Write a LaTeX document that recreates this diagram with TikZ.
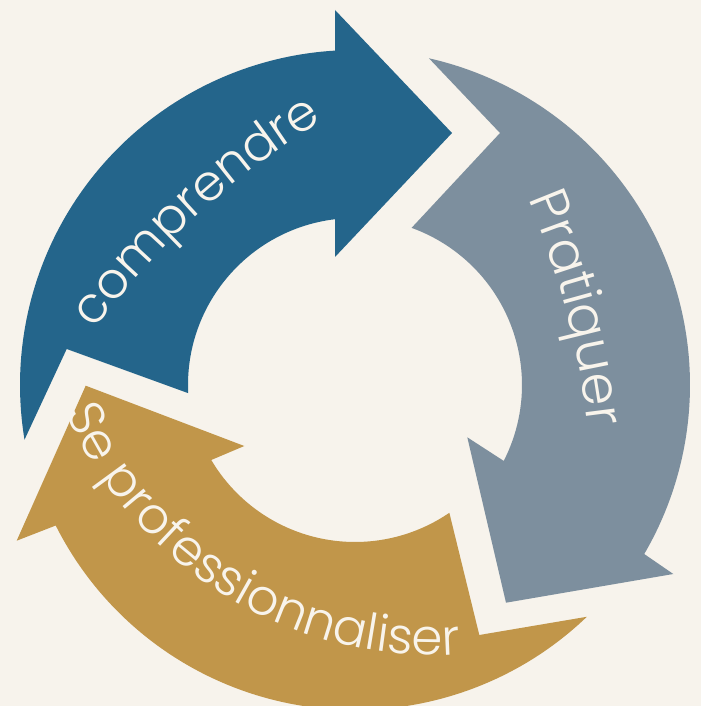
\documentclass[tikz,border=0pt]{standalone}
\usepackage{fontspec}
\setmainfont{Poppins Light}
\usetikzlibrary{decorations.text}

\definecolor{bgcream}{RGB}{247,243,236}
\definecolor{txtcream}{RGB}{248,244,236}
\definecolor{cycblue}{RGB}{36,101,139}
\definecolor{cycgrey}{RGB}{125,143,158}
\definecolor{cycgold}{RGB}{193,150,74}

\newcommand{\cyclefont}{\fontsize{50}{60}\selectfont}
\newcommand{\cyclefontbig}{\fontsize{53}{62}\selectfont}

\tikzset{
  bluearrow/.style={fill=cycblue, draw=none},
  greyarrow/.style={fill=cycgrey, draw=none},
  goldarrow/.style={fill=cycgold, draw=none},
  arclabel/.style={decorate, decoration={text along path, text align=center, text color=txtcream, text={#1}}}
}

\begin{document}
\begin{tikzpicture}[x=1pt, y=1pt]

	\fill[bgcream] (-355,-321) rectangle (346,385);
	\useasboundingbox (-355,-321) rectangle (346,385);

	\coordinate (bluetip) at (97,252);
	\coordinate (greytip) at (151,-217.7);

	\fill[bluearrow] (189.4:335) arc[start angle=189.4, end angle=93.42, radius=335pt]
		-- (-20,375) -- (bluetip) -- (-20,128)
		-- (96.88:167) arc[start angle=96.88, end angle=182.8, radius=167pt]
		-- (-288.3,36) -- cycle;

	\fill[greyarrow] (77.25:335) arc[start angle=77.25, end angle=-30.3, radius=335pt]
		-- (318.3,-189) -- (greytip) -- (112.3,-52.3)
		-- (-27.04:167) arc[start angle=-27.04, end angle=70.2, radius=167pt]
		-- (145,252) -- cycle;

	\begin{scope}[yshift=10pt]
		\coordinate (goldtip) at (-269.3,-10.7);
		\fill[goldarrow] (-46.2:335) arc[start angle=-46.2, end angle=-153.3, radius=335pt]
			-- (-338.3,-165.7) -- (goldtip) -- (-110.7,-71)
			-- (-149.4:167) arc[start angle=-149.4, end angle=-55.6, radius=167pt]
			-- (124.3,-260) -- cycle;
	\end{scope}

	\path[arclabel={|\cyclefont|comprendre}] ([shift={(145:807)}]389,-424) arc[start angle=145, end angle=120, radius=807pt];
	\path[arclabel={|\cyclefontbig|Pratiquer}] ([shift={(26.8:835)}]-596,-139) arc[start angle=26.8, end angle=2.8, radius=835pt];
	\path[arclabel={|\cyclefont|Se professionnaliser}] ([shift={(198:402)}]80,132) arc[start angle=198, end angle=279, radius=402pt];

\end{tikzpicture}
\end{document}
